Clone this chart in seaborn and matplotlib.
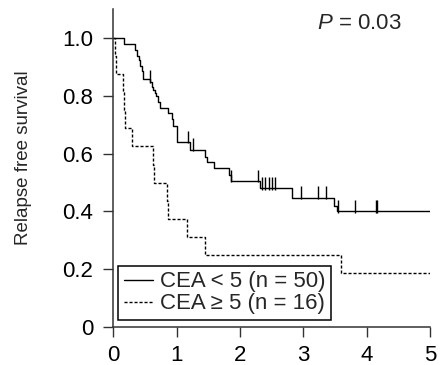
import numpy as np
import pandas as pd
import matplotlib
matplotlib.use("Agg")
import matplotlib.pyplot as plt
import seaborn as sns

# Kaplan-Meier steps (years, survival fraction)
times_low = [0, 0.17, 0.34, 0.37, 0.41, 0.42, 0.45, 0.47, 0.58, 0.61, 0.63, 0.66,
             0.68, 0.71, 0.74, 0.87, 0.92, 0.95, 1.01, 1.21, 1.45, 1.48, 1.59,
             1.82, 1.86, 2.31, 2.82, 3.48, 3.53, 5.0]
surv_low = [1.0, 0.98, 0.96, 0.94, 0.925, 0.905, 0.885, 0.86, 0.85, 0.83, 0.82, 0.81,
            0.80, 0.78, 0.76, 0.74, 0.72, 0.695, 0.64, 0.613, 0.59, 0.573, 0.55,
            0.525, 0.505, 0.48, 0.447, 0.42, 0.40, 0.40]
censor_low = [0.58, 1.18, 1.26, 1.86, 2.29, 2.35, 2.40, 2.45, 2.50, 2.56,
              2.96, 3.23, 3.35, 3.55, 3.81, 4.14, 4.17]

times_high = [0, 0.02, 0.04, 0.15, 0.165, 0.18, 0.30, 0.625, 0.635, 0.855, 0.865,
              1.17, 1.45, 3.60, 5.0]
surv_high = [1.0, 0.9375, 0.875, 0.8125, 0.75, 0.6875, 0.625, 0.5625, 0.5, 0.4375,
             0.375, 0.3125, 0.25, 0.1875, 0.1875]

label_low = "CEA < 5 (n = 50)"
label_high = "CEA \u2265 5 (n = 16)"
x_ticks = [0, 1, 2, 3, 4, 5]
y_ticks = [0, 0.2, 0.4, 0.6, 0.8, 1.0]
y_tick_labels = ["0", "0.2", "0.4", "0.6", "0.8", "1.0"]

sns.set_style("ticks")
plt.rcParams["font.family"] = ["Liberation Sans", "DejaVu Sans"]
plt.rcParams["mathtext.fontset"] = "custom"
plt.rcParams["mathtext.rm"] = "Liberation Sans"
plt.rcParams["mathtext.it"] = "Liberation Sans:italic"

low = pd.DataFrame({"time": times_low, "surv": surv_low})
high = pd.DataFrame({"time": times_high, "surv": surv_high})

fig = plt.figure(figsize=(4.43, 3.65), dpi=100)
ax = fig.add_axes([0.2558, 0.1041, 0.7149, 0.8704])

sns.lineplot(data=low, x="time", y="surv", estimator=None, sort=False,
             drawstyle="steps-post", color="black", linewidth=1.0,
             label=label_low, ax=ax)
sns.lineplot(data=high, x="time", y="surv", estimator=None, sort=False,
             drawstyle="steps-post", color="black", linewidth=1.0,
             dashes=False, linestyle=(0, (2.2, 1.4)), label=label_high, ax=ax)

# censoring ticks
idx = np.searchsorted(times_low, censor_low, side="right") - 1
s_c = np.asarray(surv_low)[idx]
ax.vlines(censor_low, s_c - 0.004, s_c + 0.04, color="black", linewidth=1.0)

ax.set_xlim(0, 5)
ax.set_ylim(0, 1.1)
ax.set_xticks(x_ticks)
ax.set_xticklabels([str(t) for t in x_ticks])
ax.set_yticks(y_ticks)
ax.set_yticklabels(y_tick_labels)
ax.tick_params(direction="out", length=7.5, width=1.0, color="#333333",
               labelsize=16, labelcolor="black")
ax.tick_params(axis="y", pad=7)
ax.tick_params(axis="x", pad=5.5)
for side in ["top", "right"]:
    ax.spines[side].set_visible(False)
for side in ["left", "bottom"]:
    ax.spines[side].set_color("#333333")
    ax.spines[side].set_linewidth(1.1)

ax.set_xlabel("")
ax.set_ylabel("Relapse free survival", fontsize=13.5)
ax.yaxis.set_label_coords(-0.257, 0.532)

ax.text(0.9107, 0.954, "$P$ = 0.03", transform=ax.transAxes, ha="right",
        va="center", fontsize=16)

leg = ax.legend(loc="lower left", bbox_to_anchor=(0.015, 0.022), borderaxespad=0,
                fontsize=16, handlelength=1.3, handletextpad=0.32, borderpad=0.25,
                labelspacing=0.05, fancybox=False, framealpha=1, edgecolor="black")
leg.get_frame().set_linewidth(1.1)

fig.savefig("out.png", dpi=100)
plt.close(fig)
